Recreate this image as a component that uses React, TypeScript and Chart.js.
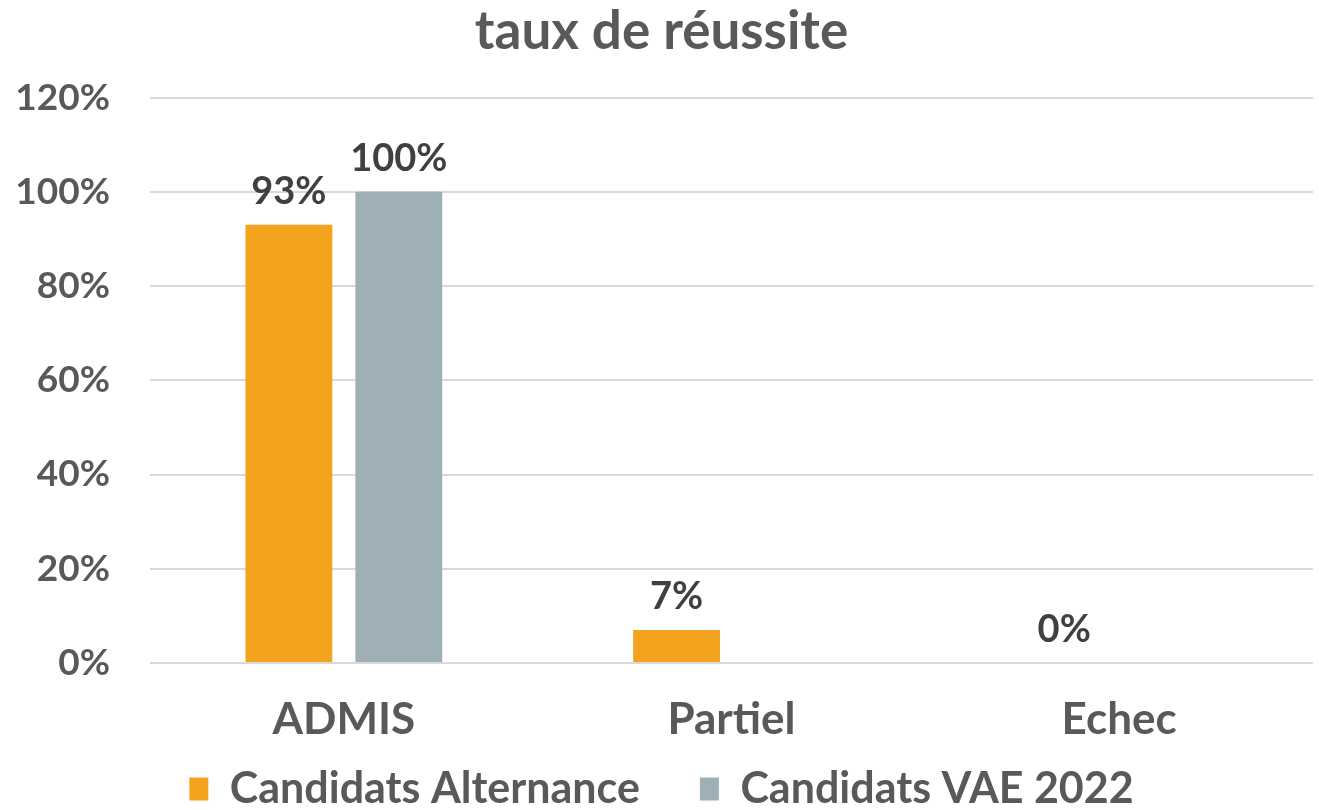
import React, { useEffect, useRef } from "react";
import { Chart, registerables } from "chart.js";
Chart.register(...registerables);

const categories = ["ADMIS", "Partiel", "Echec"];
const alternance = [93, 7, 0];
const vae2022: (number | null)[] = [100, null, null];
const yTicks = [0, 20, 40, 60, 80, 100, 120];

const FONT = "Lato, 'Open Sans', sans-serif";
const LEGEND_FONT = 43;
const LEGEND_PAD = 60;
const LEGEND_CENTER_Y = 789;

const labelPlugin = {
  id: "valueLabels",
  afterDatasetsDraw(chart: any) {
    const ctx = chart.ctx;
    ctx.save();
    ctx.font = `bold 38px ${FONT}`;
    ctx.fillStyle = "#404040";
    ctx.textAlign = "center";
    ctx.textBaseline = "bottom";
    chart.data.datasets.forEach((ds: any, i: number) => {
      const meta = chart.getDatasetMeta(i);
      meta.data.forEach((bar: any, j: number) => {
        const v = ds.data[j];
        if (v === null || v === undefined) return;
        ctx.fillText(`${v}%`, bar.x, bar.y - 14);
      });
    });
    ctx.restore();
  },
};

// moves the legend row to its final vertical place after layout
const legendPlace = {
  id: "legendPlace",
  afterLayout(chart: any) {
    const lg = chart.legend;
    if (!lg) return;
    lg.top = LEGEND_CENTER_Y - LEGEND_PAD - LEGEND_FONT / 2;
    lg.bottom = chart.height;
    lg.height = lg.bottom - lg.top;
  },
};

export default function App() {
  const ref = useRef<HTMLCanvasElement>(null);
  useEffect(() => {
    document.body.style.margin = "0";
    const chart = new Chart(ref.current!, {
      type: "bar",
      data: {
        labels: categories,
        datasets: [
          { label: "Candidats Alternance", data: alternance, backgroundColor: "#F4A31E" },
          { label: "Candidats VAE 2022", data: vae2022, backgroundColor: "#9EAFB5" },
        ],
      },
      options: {
        animation: false,
        responsive: false,
        layout: { padding: { left: 10, right: 6, top: 0, bottom: 0 } },
        categoryPercentage: 0.567,
        barPercentage: 0.79,
        plugins: {
          title: {
            display: true,
            text: "taux de réussite",
            color: "#595959",
            font: { family: FONT, size: 53, weight: "bold" },
            padding: { top: 0, bottom: 34 },
          },
          legend: {
            position: "bottom",
            maxHeight: 48,
            labels: {
              color: "#595959",
              font: { family: FONT, size: LEGEND_FONT, weight: "bold" },
              boxWidth: 19,
              boxHeight: 23,
              padding: LEGEND_PAD,
              useBorderRadius: false,
            },
          },
          tooltip: { enabled: false },
        },
        scales: {
          x: {
            grid: { display: false },
            border: { display: false },
            afterFit: (axis: any) => {
              axis.height = 99;
            },
            ticks: {
              color: "#595959",
              font: { family: FONT, size: 44, weight: "bold" },
              padding: 22,
            },
          },
          y: {
            min: 0,
            max: 120,
            afterBuildTicks: (axis: any) => {
              axis.ticks = yTicks.map((v) => ({ value: v }));
            },
            afterFit: (axis: any) => {
              axis.width = 140;
            },
            grid: { color: "#D9D9D9", lineWidth: 2, drawTicks: false },
            border: { display: false },
            ticks: {
              color: "#595959",
              font: { family: FONT, size: 37, weight: "bold" },
              padding: 40,
              callback: (v: any) => `${v}%`,
            },
          },
        },
      },
      plugins: [labelPlugin, legendPlace],
    });
    return () => chart.destroy();
  }, []);
  return (
    <div style={{ width: 1319, height: 810, background: "#fff" }}>
      <canvas ref={ref} width={1319} height={810} />
    </div>
  );
}
